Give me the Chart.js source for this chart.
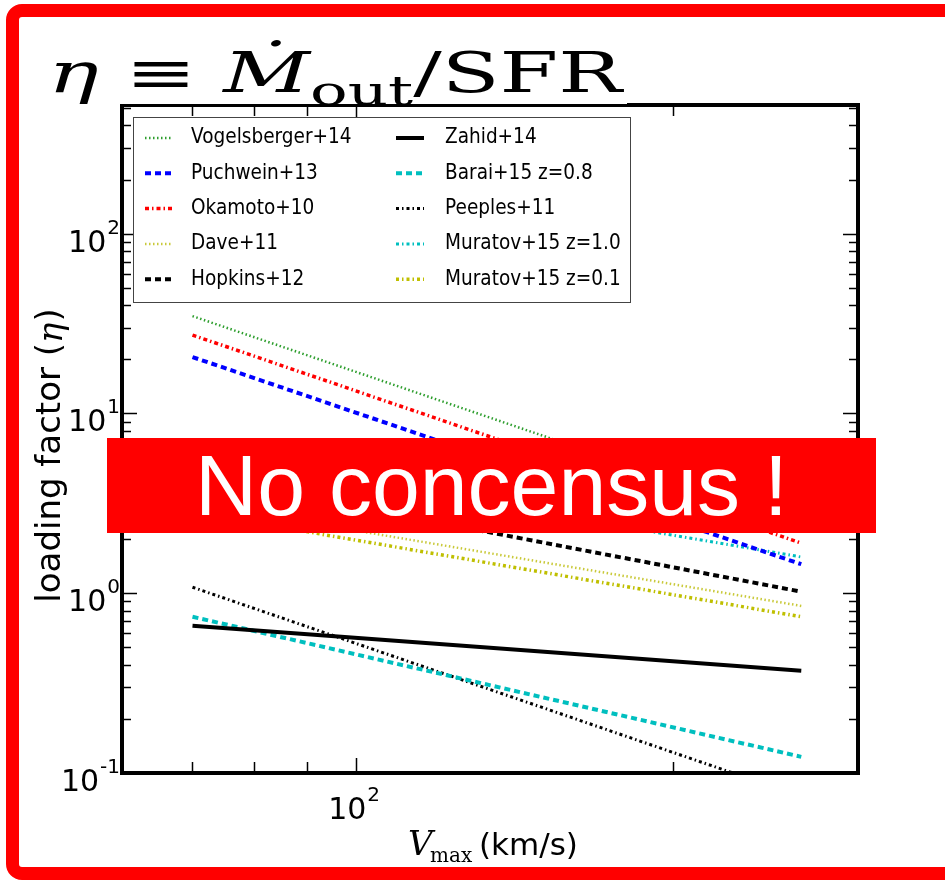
<!DOCTYPE html>
<html>
<head>
<meta charset="utf-8">
<script src="https://cdn.jsdelivr.net/npm/chart.js@4.4.1/dist/chart.umd.min.js"></script>
<style>
body { margin: 0; background: #fff; width: 945px; height: 881px; overflow: hidden; position: relative; }
#frame { position: absolute; left: 6px; top: 4px; width: 1000px; height: 876px; box-sizing: border-box;
  border: 13px solid #ff0000; border-radius: 16px; }
#chart { position: absolute; left: 0; top: 0; }
#title { position: absolute; left: 22px; top: 17px; width: 605px; height: 87px; background: #fff; }
#tt { position: absolute; left: 48px; top: 45px; font-family: "DejaVu Serif", serif; font-size: 56px;
  line-height: 56px; white-space: nowrap; transform-origin: 0 0; color: #000; }
#tt sub { font-size: 0.74em; vertical-align: -0.32em; line-height: 0; }
#banner { position: absolute; left: 107px; top: 438px; width: 769px; height: 95px; background: #ff0000;
  color: #fff; font-family: "Liberation Sans", Arial, sans-serif; font-size: 86px; line-height: 95px;
  text-align: center; white-space: nowrap; }
</style>
</head>
<body>
<div id="frame"></div>
<canvas id="chart" width="945" height="881"></canvas>
<div id="title"></div>
<span id="tt"><i>η</i> ≡ <i>Ṁ</i><sub>out</sub>/SFR</span>
<div id="banner">No concensus !</div>
<script>
'use strict';
// velocity (km/s) at both ends of each relation
var vmax = [70, 265];
// loading factor read at vmax[0] and vmax[1]
var vogelsberger = [34.8, 2.43];
var puchwein = [20.6, 1.45];
var okamoto = [27.3, 1.9];
var dave = [3.18, 0.85];
var hopkins = [4.5, 1.02];
var zahid = [0.66, 0.37];
var barai = [0.74, 0.123];
var peeples = [1.08, 0.074];
var muratovZ10 = [6.0, 1.59];
var muratovZ01 = [2.83, 0.74];

// ticks
var xMajorTicks = [100];
var xMinorTicks = [70, 80, 90, 200];
var yMajorTicks = [0.1, 1, 10, 100];
var yTickLabels = ['-1', '0', '1', '2'];
var yMinorTicks = [];
for (var d = 0; d < yMajorTicks.length; d++) {
    for (var k = 2; k < 10; k++) {
        if (yMajorTicks[d] * k < 520) yMinorTicks.push(yMajorTicks[d] * k);
    }
}

function pts(vals) {
    var out = [];
    for (var i = 0; i < vmax.length; i++) out.push({ x: vmax[i], y: vals[i] });
    return out;
}

function line(label, vals, color, width, dash) {
    return {
        label: label, data: pts(vals), showLine: true, borderColor: color, backgroundColor: color,
        borderWidth: width, borderDash: dash, borderCapStyle: 'butt', pointRadius: 0, fill: false
    };
}

var datasets = [
    line('Vogelsberger+14', vogelsberger, '#2e9e2e', 2.5, [1.5, 2.5]),
    line('Puchwein+13', puchwein, '#0000ff', 4, [6, 4]),
    line('Okamoto+10', okamoto, '#ff0000', 3.5, [4, 3, 1.5, 3]),
    line('Dave+11', dave, '#c9c93a', 2.5, [1.5, 2.5]),
    line('Hopkins+12', hopkins, '#000000', 4, [6, 4]),
    line('Zahid+14', zahid, '#000000', 4, []),
    line('Barai+15 z=0.8', barai, '#00bfbf', 4, [6, 4]),
    line('Peeples+11', peeples, '#000000', 3, [3, 3, 1.5, 3]),
    line('Muratov+15 z=1.0', muratovZ10, '#00bfbf', 3, [3, 3, 1.5, 3]),
    line('Muratov+15 z=0.1', muratovZ01, '#bfbf00', 3.5, [3, 3, 1.5, 3])
];

// draw "10" with a superscript, right edge at xr
function powLabel(ctx, sup, xr, base, align) {
    ctx.font = '20px "DejaVu Sans"';
    var sw = ctx.measureText(sup).width;
    ctx.font = '30px "DejaVu Sans"';
    var tw = ctx.measureText('10').width;
    var x0 = align === 'center' ? xr - (tw + sw) / 2 : xr - tw - sw;
    ctx.textAlign = 'left';
    ctx.textBaseline = 'alphabetic';
    ctx.fillText('10', x0, base);
    ctx.font = '20px "DejaVu Sans"';
    ctx.fillText(sup, x0 + tw + 1, base - 18);
}

var decor = {
    id: 'decor',
    afterDraw: function (chart) {
        var ctx = chart.ctx;
        var a = chart.chartArea;
        var xs = chart.scales.x;
        var ys = chart.scales.y;
        var i, p;
        ctx.save();
        ctx.fillStyle = '#000';
        ctx.strokeStyle = '#000';
        ctx.lineWidth = 1.5;
        ctx.setLineDash([]);
        ctx.beginPath();
        // inward ticks on all sides
        for (i = 0; i < xMajorTicks.length; i++) {
            p = Math.round(xs.getPixelForValue(xMajorTicks[i])) + 0.5;
            ctx.moveTo(p, a.bottom); ctx.lineTo(p, a.bottom - 15);
            ctx.moveTo(p, a.top); ctx.lineTo(p, a.top + 15);
        }
        for (i = 0; i < xMinorTicks.length; i++) {
            p = Math.round(xs.getPixelForValue(xMinorTicks[i])) + 0.5;
            ctx.moveTo(p, a.bottom); ctx.lineTo(p, a.bottom - 11);
            ctx.moveTo(p, a.top); ctx.lineTo(p, a.top + 11);
        }
        for (i = 0; i < yMajorTicks.length; i++) {
            p = Math.round(ys.getPixelForValue(yMajorTicks[i])) + 0.5;
            ctx.moveTo(a.left, p); ctx.lineTo(a.left + 15, p);
            ctx.moveTo(a.right, p); ctx.lineTo(a.right - 15, p);
        }
        for (i = 0; i < yMinorTicks.length; i++) {
            p = Math.round(ys.getPixelForValue(yMinorTicks[i])) + 0.5;
            ctx.moveTo(a.left, p); ctx.lineTo(a.left + 9, p);
            ctx.moveTo(a.right, p); ctx.lineTo(a.right - 9, p);
        }
        ctx.stroke();
        // spines
        ctx.lineWidth = 4;
        ctx.strokeRect(a.left, a.top, a.right - a.left, a.bottom - a.top);

        // tick labels
        for (i = 0; i < yMajorTicks.length; i++) {
            p = ys.getPixelForValue(yMajorTicks[i]);
            powLabel(ctx, yTickLabels[i], 119, p + 18);
        }
        for (i = 0; i < xMajorTicks.length; i++) {
            p = xs.getPixelForValue(xMajorTicks[i]);
            powLabel(ctx, '2', p - 2, 819, 'center');
        }

        // y title
        ctx.save();
        ctx.translate(51, 456);
        ctx.rotate(-Math.PI / 2);
        var s1 = 'loading factor (', s3 = ')';
        ctx.font = '34px "DejaVu Sans"';
        var w1 = ctx.measureText(s1).width, w3 = ctx.measureText(s3).width;
        ctx.font = 'italic 34px "DejaVu Serif"';
        var w2 = ctx.measureText('η').width;
        var sx = -(w1 + w2 + w3) / 2;
        ctx.textAlign = 'left';
        ctx.textBaseline = 'middle';
        ctx.font = '34px "DejaVu Sans"';
        ctx.fillText(s1, sx, 0);
        ctx.font = 'italic 34px "DejaVu Serif"';
        ctx.fillText('η', sx + w1, 2);
        ctx.font = '34px "DejaVu Sans"';
        ctx.fillText(s3, sx + w1 + w2 + 1, 0);
        ctx.restore();

        // x title
        ctx.textAlign = 'left';
        ctx.textBaseline = 'alphabetic';
        ctx.font = 'italic 34px "DejaVu Serif"';
        ctx.fillText('V', 408, 855);
        ctx.font = '20px "DejaVu Serif"';
        ctx.fillText('max', 430, 862);
        ctx.font = '31px "DejaVu Sans"';
        ctx.fillText('(km/s)', 479, 855);

        // legend, two columns
        var lx = 133.5, ly = 117.5, lw = 497, lh = 185;
        ctx.fillStyle = '#fff';
        ctx.fillRect(lx, ly, lw, lh);
        ctx.lineWidth = 1;
        ctx.strokeStyle = '#444';
        ctx.strokeRect(lx, ly, lw, lh);
        for (i = 0; i < datasets.length; i++) {
            var ds = datasets[i];
            var col = i < 5 ? 0 : 1;
            var row = i % 5;
            var yy = 138 + row * 35.3;
            var x0 = col === 0 ? 145 : 396;
            ctx.strokeStyle = ds.borderColor;
            ctx.lineWidth = ds.borderWidth;
            ctx.setLineDash(ds.borderDash);
            ctx.lineCap = 'butt';
            ctx.beginPath();
            ctx.moveTo(x0, yy);
            ctx.lineTo(x0 + 28, yy);
            ctx.stroke();
            ctx.setLineDash([]);
            ctx.fillStyle = '#000';
            ctx.save();
            ctx.translate(col === 0 ? 191 : 445, yy);
            ctx.scale(1, 1.12);
            ctx.font = '18.5px "DejaVu Sans"';
            ctx.textBaseline = 'middle';
            ctx.fillText(ds.label, 0, 0);
            ctx.restore();
        }
        ctx.restore();
    }
};

new Chart(document.getElementById('chart'), {
    type: 'scatter',
    data: { datasets: datasets },
    options: {
        responsive: false,
        animation: false,
        devicePixelRatio: 1,
        layout: { padding: { left: 0, right: 87, top: 105, bottom: 108 } },
        plugins: { legend: { display: false }, tooltip: { enabled: false } },
        elements: { point: { radius: 0 }, line: { tension: 0 } },
        scales: {
            x: {
                type: 'logarithmic', min: 60, max: 300,
                grid: { display: false }, border: { display: false }, ticks: { display: false },
                afterFit: function (s) { s.height = 0; }
            },
            y: {
                type: 'logarithmic', min: 0.1, max: 520,
                grid: { display: false }, border: { display: false }, ticks: { display: false },
                afterFit: function (s) { s.width = 122; }
            }
        }
    },
    plugins: [decor]
});

// stretch the formula to the width it has in the picture
var tt = document.getElementById('tt');
tt.style.transform = 'scaleX(' + (574 / tt.offsetWidth) + ')';
</script>
</body>
</html>
